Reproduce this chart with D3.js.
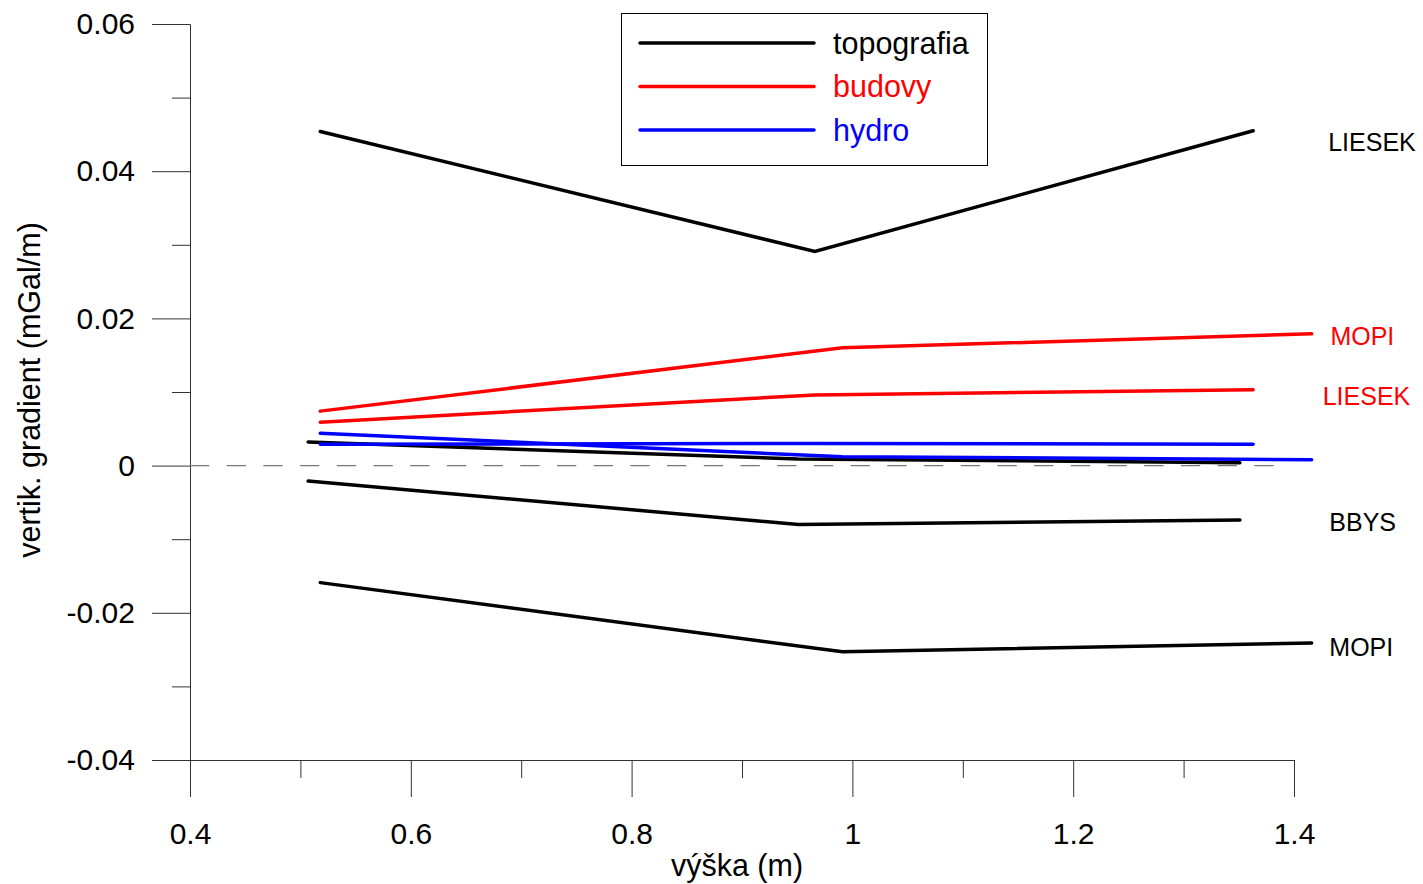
<!DOCTYPE html>
<html>
<head>
<meta charset="utf-8">
<script src="https://cdn.jsdelivr.net/npm/d3@7"></script>
<style>
  html, body { margin: 0; padding: 0; background: #fff; }
  svg { display: block; font-family: "Liberation Sans", Arial, sans-serif; }
</style>
</head>
<body>
<svg id="chart" width="1423" height="884"></svg>
<script>
// Measurement heights (m) at each site
const heightsLIESEK = [0.518, 0.966, 1.363];
const heightsMOPI   = [0.518, 0.991, 1.416];
const heightsBBYS   = [0.507, 0.951, 1.351];

// Vertical gradient corrections (mGal/m)
const topoLIESEK   = [0.0454, 0.0291, 0.0455];
const topoBBYS     = [-0.0021, -0.0080, -0.0074];
const topoBBYSnear = [0.0032, 0.0009, 0.0004];
const topoMOPI     = [-0.0159, -0.0253, -0.0241];
const budovyMOPI   = [0.0074, 0.0160, 0.0179];
const budovyLIESEK = [0.0059, 0.0096, 0.0103];
const hydroLIESEK  = [0.0029, 0.0030, 0.0029];
const hydroMOPI    = [0.0044, 0.0012, 0.0008];

// Axis ticks
const xMajor = [0.4, 0.6, 0.8, 1.0, 1.2, 1.4];
const xMinor = [0.5, 0.7, 0.9, 1.1, 1.3];
const yMajor = [0.06, 0.04, 0.02, 0, -0.02, -0.04];
const yMinor = [0.05, 0.03, 0.01, -0.01, -0.03];

// Legend entries
const legendNames  = ["topografia", "budovy", "hydro"];
const legendColors = ["#000000", "#ff0000", "#0000ff"];

// Site labels at the right end: text, colour index, x and y in data units
const siteLabelText  = ["LIESEK", "MOPI", "LIESEK", "BBYS", "MOPI"];
const siteLabelColor = [0, 1, 1, 0, 0];
const siteLabelX     = [1.431, 1.433, 1.426, 1.432, 1.432];
const siteLabelY     = [0.0440, 0.01766, 0.00951, -0.00761, -0.02459];

// Zero reference line extent
const zeroLineX = [0.4, 1.383];

const series = [
  { x: heightsLIESEK, y: topoLIESEK,   c: 0 },
  { x: heightsBBYS,   y: topoBBYS,     c: 0 },
  { x: heightsBBYS,   y: topoBBYSnear, c: 0 },
  { x: heightsMOPI,   y: topoMOPI,     c: 0 },
  { x: heightsMOPI,   y: budovyMOPI,   c: 1 },
  { x: heightsLIESEK, y: budovyLIESEK, c: 1 },
  { x: heightsLIESEK, y: hydroLIESEK,  c: 2 },
  { x: heightsMOPI,   y: hydroMOPI,    c: 2 }
];

const svg = d3.select("#chart");
const x = d3.scaleLinear().domain([0.4, 1.4]).range([190, 1294]);
const y = d3.scaleLinear().domain([-0.04, 0.06]).range([760, 24]);

const axisColor = "#333";
const fontStack = '"Liberation Sans", Arial, sans-serif';
const fmt = v => (Math.abs(v) < 1e-9 ? "0" : String(+v.toFixed(2)));

// Y axis: major and minor ticks
const gy = svg.append("g").attr("transform", `translate(${x(0.4)},0)`);
gy.call(d3.axisLeft(y).tickValues(yMajor).tickSize(38).tickSizeOuter(0).tickPadding(17).tickFormat(fmt));
gy.call(g => g.append("g").call(d3.axisLeft(y).tickValues(yMinor).tickSize(18).tickSizeOuter(0).tickFormat("")));
gy.selectAll("path.domain").attr("stroke", axisColor).attr("stroke-width", 1);
gy.selectAll("line").attr("stroke", axisColor).attr("stroke-width", 1);
gy.selectAll("text").attr("font-size", 30).attr("fill", "#000").attr("font-family", fontStack);

// X axis: major and minor ticks
const gx = svg.append("g").attr("transform", `translate(0,${y(-0.04)})`);
gx.call(d3.axisBottom(x).tickValues(xMajor).tickSize(37).tickSizeOuter(0).tickPadding(26).tickFormat(d3.format("~g")));
gx.call(g => g.append("g").call(d3.axisBottom(x).tickValues(xMinor).tickSize(18).tickSizeOuter(0).tickFormat("")));
gx.selectAll("path.domain").attr("stroke", axisColor).attr("stroke-width", 1);
gx.selectAll("line").attr("stroke", axisColor).attr("stroke-width", 1);
gx.selectAll("text").attr("font-size", 30).attr("fill", "#000").attr("font-family", fontStack);

// Axis titles
svg.append("text")
  .attr("x", 737).attr("y", 876)
  .attr("text-anchor", "middle")
  .attr("font-size", 30.5)
  .text("výška (m)");

svg.append("text")
  .attr("transform", "translate(40,390) rotate(-90)")
  .attr("text-anchor", "middle")
  .attr("font-size", 30.5)
  .text("vertik. gradient (mGal/m)");

// Dashed zero line
svg.append("line")
  .attr("x1", x(zeroLineX[0])).attr("x2", x(zeroLineX[1]))
  .attr("y1", y(0)).attr("y2", y(0))
  .attr("stroke", "#777").attr("stroke-width", 1.3)
  .attr("stroke-dasharray", "19.3 17.4");

// Data lines
const line = d3.line().x(d => x(d[0])).y(d => y(d[1]));
svg.append("g").selectAll("path")
  .data(series)
  .join("path")
  .attr("d", s => line(d3.zip(s.x, s.y)))
  .attr("fill", "none")
  .attr("stroke", s => legendColors[s.c])
  .attr("stroke-width", 3.5)
  .attr("stroke-linecap", "round")
  .attr("stroke-linejoin", "miter");

// Site labels
svg.append("g").selectAll("text")
  .data(siteLabelText)
  .join("text")
  .attr("x", (d, i) => x(siteLabelX[i]))
  .attr("y", (d, i) => y(siteLabelY[i]))
  .attr("dy", "0.36em")
  .attr("font-size", 25)
  .attr("fill", (d, i) => legendColors[siteLabelColor[i]])
  .text(d => d);

// Legend
const lg = svg.append("g");
lg.append("rect")
  .attr("x", 621.5).attr("y", 13.5).attr("width", 366).attr("height", 152)
  .attr("fill", "#fff").attr("stroke", "#000").attr("stroke-width", 1);
legendNames.forEach((name, i) => {
  const ly = 43 + i * 43.5;
  lg.append("line")
    .attr("x1", 640).attr("x2", 814).attr("y1", ly).attr("y2", ly)
    .attr("stroke", legendColors[i]).attr("stroke-width", 3.5)
    .attr("stroke-linecap", "round");
  lg.append("text")
    .attr("x", 833).attr("y", ly + 10.5)
    .attr("font-size", 30.5)
    .attr("fill", legendColors[i])
    .text(name);
});
</script>
</body>
</html>
